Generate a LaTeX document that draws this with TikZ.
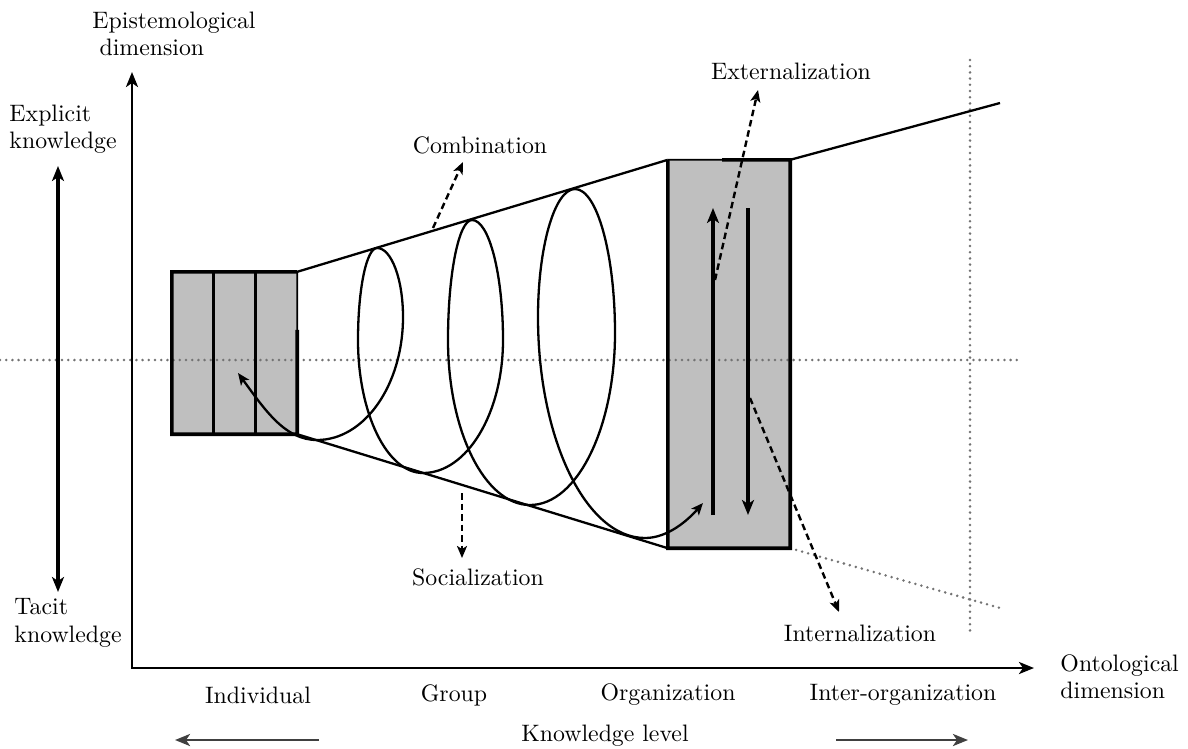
\documentclass[tikz,border=0pt]{standalone}
\usetikzlibrary{arrows.meta,calc}
\begin{document}
\begin{tikzpicture}[x=1pt,y=-1pt,
  >={Stealth[length=15pt,width=12pt,inset=4pt]},
  lbl/.style={font=\fontsize{10}{11.5}\selectfont, scale=2.38, transform shape, inner sep=0pt, align=left},
  axisline/.style={line width=2.9pt},
  thinline/.style={line width=2.3pt},
  dotline/.style={draw=black!55, line width=2.8pt, line cap=round, dash pattern=on 0pt off 6.2pt},
  dasharrow/.style={line width=2.4pt, dash pattern=on 6.5pt off 4pt, -{Stealth[length=12pt,width=10pt,inset=3pt]}},
  spiralline/.style={line width=2.3pt, {Stealth[length=12pt,width=10pt,inset=3pt]}-{Stealth[length=12pt,width=10pt,inset=3pt]}},
  boxfill/.style={fill=black!25, draw=none, inner sep=0pt}
]
\useasboundingbox (0,0) rectangle (1188,748);

% gray boxes
\node[boxfill, minimum width=125pt, minimum height=162pt] (lbox) at (234.5,353) {};
\node[boxfill, minimum width=122pt, minimum height=388pt] (rbox) at (729,354) {};

% dotted guide lines
\coordinate (hl) at (0,360);
\coordinate (hr) at (1018,360);
\coordinate (vt) at (970,60);
\coordinate (vb) at (970,632);
\draw[dotline] (hl) -- (hr);
\draw[dotline] (vt) -- (vb);
\coordinate (br) at (1000,608);
\draw[dotline] (rbox.south east) -- (br);

% left box borders
\coordinate (lcut) at ($(lbox.south east)!0.642!(lbox.north east)$);
\draw[line width=3.6pt] (lcut) -- (lbox.south east) -- (lbox.south west) -- (lbox.north west) -- (lbox.north east);
\draw[line width=1.8pt] (lbox.north east) -- (lcut);
\draw[line width=3.6pt] ($(lbox.north west)!1/3!(lbox.north east)$) -- ($(lbox.south west)!1/3!(lbox.south east)$);
\draw[line width=3.6pt] ($(lbox.north west)!2/3!(lbox.north east)$) -- ($(lbox.south west)!2/3!(lbox.south east)$);

% right box borders
\coordinate (rcut) at ($(rbox.north west)!0.443!(rbox.north east)$);
\draw[line width=3.6pt] (rcut) -- (rbox.north east) -- (rbox.south east) -- (rbox.south west) -- (rbox.north west);
\draw[line width=1.8pt] (rbox.north west) -- (rcut);

% funnel
\draw[thinline] (lbox.north east) -- (rbox.north west);
\draw[thinline] (lbox.south east) -- (rbox.south west);
\coordinate (tr) at (1000,103);
\draw[thinline] (rbox.north east) -- (tr);

% axes
\coordinate (O) at (132,668);
\coordinate (ytop) at (132,72);
\coordinate (xend) at (1034,668);
\draw[axisline,<->] (ytop) -- (O) -- (xend);

% explicit / tacit arrow
\coordinate (ea) at (58,166);
\coordinate (ta) at (58,592);
\draw[line width=3.2pt,<->] (ta) -- (ea);

% arrows in right box
\coordinate (u1) at (713,515);
\coordinate (u2) at (713,208);
\coordinate (d1) at (748,208);
\coordinate (d2) at (748,515);
\draw[line width=4pt,->] (u1) -- (u2);
\draw[line width=4pt,->] (d1) -- (d2);

% spiral
\coordinate (sp0) at (238,373);
\coordinate (spE) at (703,503);
\draw[spiralline] (sp0)
  .. controls (265,410) and (285,440) .. (317,440)
  .. controls (364.5,440) and (403,385) .. (403,317)
  .. controls (403,279) and (391.4,248) .. (377,248)
  .. controls (366.5,248) and (358,289) .. (358,340)
  .. controls (358,413.4) and (387,473) .. (423,473)
  .. controls (467,473) and (503,413.4) .. (503,340)
  .. controls (503,273.8) and (489,220) .. (472,220)
  .. controls (458.8,220) and (448,273.8) .. (448,340)
  .. controls (448,431) and (484.7,505) .. (530,505)
  .. controls (577,505) and (615,428) .. (615,333)
  .. controls (615,254) and (597,189) .. (575,189)
  .. controls (554.6,189) and (538,246.9) .. (538,317)
  .. controls (538,439) and (586,538) .. (645,538)
  .. controls (668,538) and (688,520) .. (spE);

% dashed mode arrows
\coordinate (cs) at (433,228);
\coordinate (ct) at (463,162);
\coordinate (es) at (715,280);
\coordinate (et) at (758,90);
\coordinate (is) at (750,398);
\coordinate (it) at (839,612);
\coordinate (ss) at (462,493);
\coordinate (st) at (462,558);
\draw[dasharrow] (cs) -- (ct);
\draw[dasharrow] (es) -- (et);
\draw[dasharrow] (is) -- (it);
\draw[dasharrow] (ss) -- (st);

% bottom arrows
\coordinate (la1) at (319,740);
\coordinate (la2) at (175,740);
\coordinate (ra1) at (836,740);
\coordinate (ra2) at (968,740);
\draw[line width=2.8pt, draw=black!75, ->] (la1) -- (la2);
\draw[line width=2.8pt, draw=black!75, ->] (ra1) -- (ra2);

% labels
\node[lbl, anchor=west] (epi) at (92,34) {Epistemological\\\hspace*{3pt}dimension};
\node[lbl, anchor=west] (expl) at (9,129) {Explicit\\knowledge};
\node[lbl, anchor=west] (tac) at (14,623) {Tacit\\knowledge};
\node[lbl, anchor=west] (onto) at (1060,677) {Ontological\\dimension};
\node[lbl] (comb) at (480,145) {Combination};
\node[lbl] (ext) at (791,71) {Externalization};
\node[lbl] (int) at (860,633) {Internalization};
\node[lbl] (soc) at (478,577) {Socialization};
\node[lbl] (indiv) at (258,695) {Individual};
\node[lbl] (grp) at (454,695) {Group};
\node[lbl] (org) at (668,695) {Organization};
\node[lbl] (iorg) at (903,695) {Inter-organization};
\node[lbl] (klev) at (605,736) {Knowledge level};
\end{tikzpicture}
\end{document}
